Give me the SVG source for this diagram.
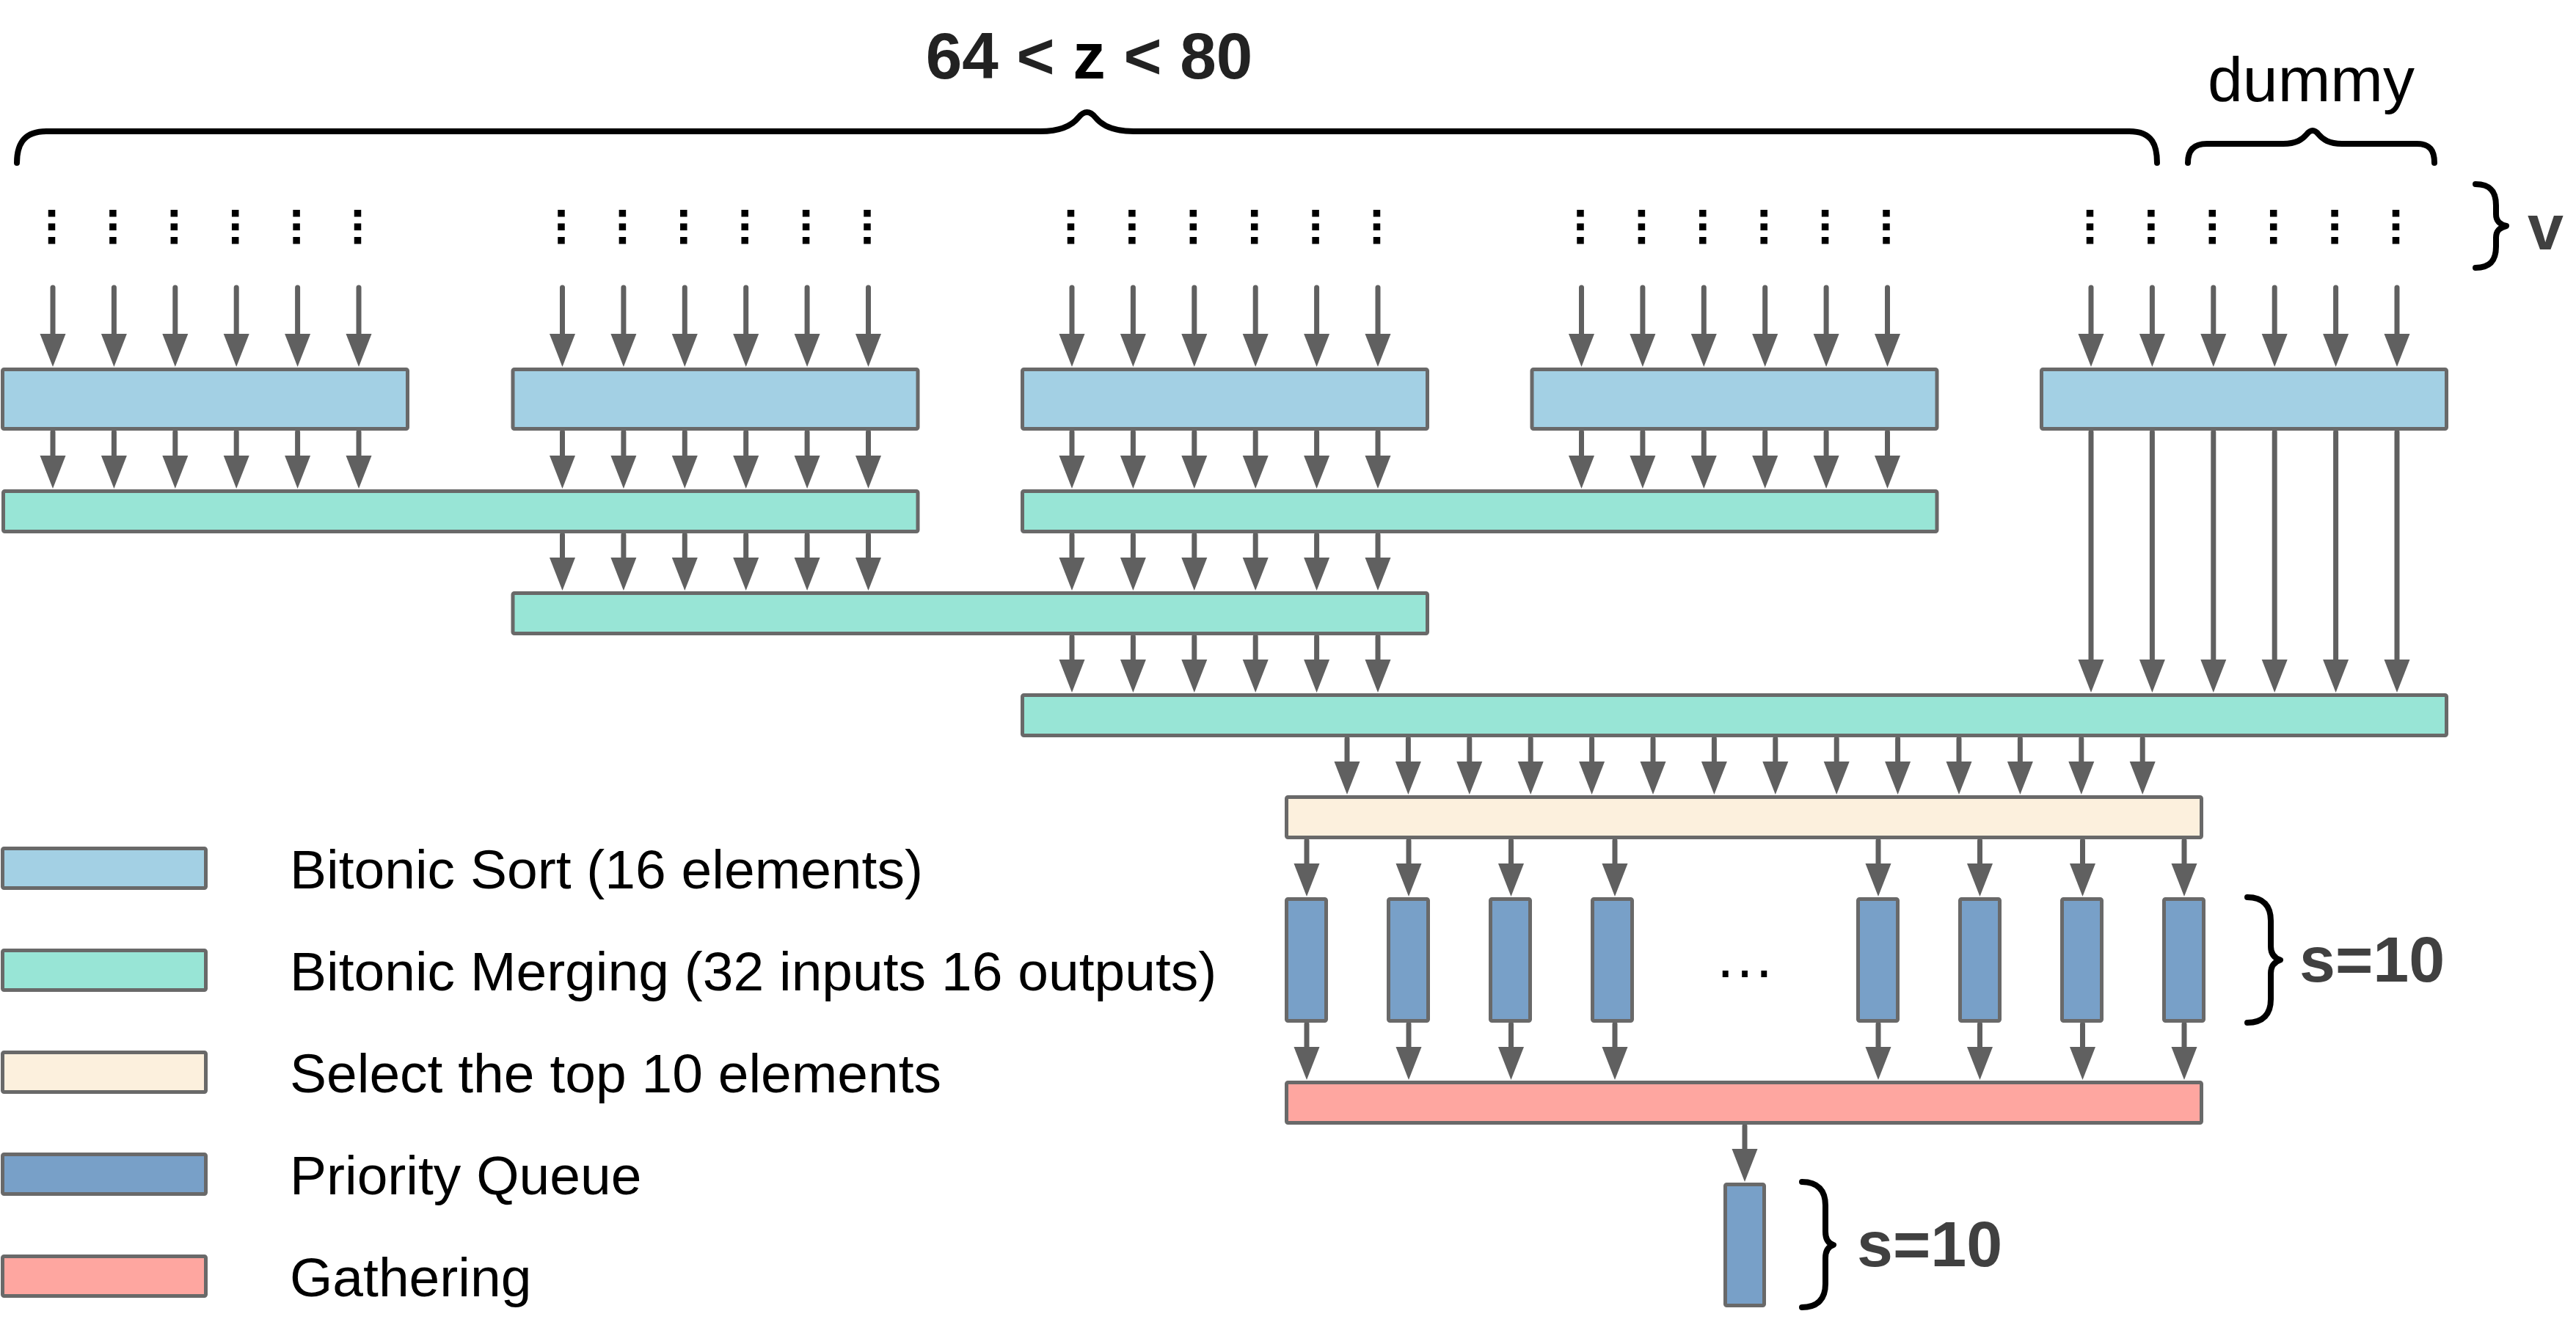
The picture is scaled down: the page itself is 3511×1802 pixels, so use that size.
<svg xmlns="http://www.w3.org/2000/svg" width="3511" height="1802" viewBox="0 0 3511 1802">
<defs>
<style>
.b{stroke:#696969;stroke-width:5;stroke-linejoin:round}
.sort{fill:#a3d0e4}.merge{fill:#98e5d6}.sel{fill:#fcf0dd}.pq{fill:#78a0c8}.gat{fill:#fea6a0}
.a{stroke:#606060;stroke-width:7;stroke-linecap:round;fill:none;marker-end:url(#ah)}
.br{fill:none;stroke:#000;stroke-width:8;stroke-linecap:round;stroke-linejoin:round}
.d{stroke:#000;stroke-width:9.5;stroke-dasharray:9.5 9}
.t{font-family:"Liberation Sans",Arial,Helvetica,sans-serif}
.lg{font-size:75px;fill:#000}
.bl{font-weight:bold;font-size:88px;fill:#404040}
</style>
<marker id="ah" markerUnits="userSpaceOnUse" markerWidth="46" markerHeight="35" refX="1" refY="17.5" orient="auto" overflow="visible">
<path d="M0,0 L45,17.5 L0,35 z" fill="#606060"/>
</marker>
</defs>
<rect width="3511" height="1802" fill="#fff"/>

<g id="labels">
<text class="t" x="1484.5" y="107" text-anchor="middle" font-weight="bold" font-size="89" fill="#222">64 &lt; <tspan fill="#000">z</tspan> &lt; 80</text>
<text class="t" x="3009" y="138" font-size="86" fill="#000">dummy</text>
<text class="t bl" x="3445" y="340">v</text>
<text class="t bl" x="3134" y="1338">s=10</text>
<text class="t bl" x="2531" y="1726">s=10</text>
<text class="t" x="2378" y="1332" text-anchor="middle" font-size="83" fill="#000">…</text>
</g>

<g id="braces">
<path class="br" d="M23,222 C23,200 30,179 63,179 L1418,179 C1448,179 1462,170 1470,160 Q1481.5,146 1493,160 C1501,170 1515,179 1545,179 L2902,179 C2935,179 2940,200 2940,222"/>
<path class="br" d="M2982,222 C2982,205 2990,196 3008,196 L3112,196 C3130,196 3138,190 3144,183 Q3152,173 3160,183 C3166,190 3174,196 3192,196 L3294,196 C3312,196 3318,205 3318,222"/>
<path class="br" d="M3374,251 C3395,251 3402,262 3402,280 L3402,292 C3402,302 3408,306 3416,308 C3408,310 3402,314 3402,324 L3402,336 C3402,354 3395,365 3374,365"/>
<path class="br" d="M3063,1223 C3085,1223 3095,1235 3095,1255 L3095,1290 C3095,1300 3100,1306 3108,1308.5 C3100,1311 3095,1317 3095,1327 L3095,1362 C3095,1382 3085,1394 3063,1394"/>
<path class="br" d="M2456,1611 C2478,1611 2488,1623 2488,1643 L2488,1679 C2488,1689 2492,1695 2499,1697 C2492,1699 2488,1705 2488,1715 L2488,1750 C2488,1770 2478,1782 2456,1782"/>
</g>

<g id="inputs">
<line class="d" x1="70.5" y1="286" x2="70.5" y2="332.5"/><line class="d" x1="153.9" y1="286" x2="153.9" y2="332.5"/><line class="d" x1="237.3" y1="286" x2="237.3" y2="332.5"/><line class="d" x1="320.7" y1="286" x2="320.7" y2="332.5"/><line class="d" x1="404.1" y1="286" x2="404.1" y2="332.5"/><line class="d" x1="487.5" y1="286" x2="487.5" y2="332.5"/>
<line class="d" x1="765" y1="286" x2="765" y2="332.5"/><line class="d" x1="848.4" y1="286" x2="848.4" y2="332.5"/><line class="d" x1="931.8" y1="286" x2="931.8" y2="332.5"/><line class="d" x1="1015.2" y1="286" x2="1015.2" y2="332.5"/><line class="d" x1="1098.6" y1="286" x2="1098.6" y2="332.5"/><line class="d" x1="1182" y1="286" x2="1182" y2="332.5"/>
<line class="d" x1="1459.5" y1="286" x2="1459.5" y2="332.5"/><line class="d" x1="1542.9" y1="286" x2="1542.9" y2="332.5"/><line class="d" x1="1626.3" y1="286" x2="1626.3" y2="332.5"/><line class="d" x1="1709.7" y1="286" x2="1709.7" y2="332.5"/><line class="d" x1="1793.1" y1="286" x2="1793.1" y2="332.5"/><line class="d" x1="1876.5" y1="286" x2="1876.5" y2="332.5"/>
<line class="d" x1="2154" y1="286" x2="2154" y2="332.5"/><line class="d" x1="2237.4" y1="286" x2="2237.4" y2="332.5"/><line class="d" x1="2320.8" y1="286" x2="2320.8" y2="332.5"/><line class="d" x1="2404.2" y1="286" x2="2404.2" y2="332.5"/><line class="d" x1="2487.6" y1="286" x2="2487.6" y2="332.5"/><line class="d" x1="2571" y1="286" x2="2571" y2="332.5"/>
<line class="d" x1="2848.5" y1="286" x2="2848.5" y2="332.5"/><line class="d" x1="2931.9" y1="286" x2="2931.9" y2="332.5"/><line class="d" x1="3015.3" y1="286" x2="3015.3" y2="332.5"/><line class="d" x1="3098.7" y1="286" x2="3098.7" y2="332.5"/><line class="d" x1="3182.1" y1="286" x2="3182.1" y2="332.5"/><line class="d" x1="3265.5" y1="286" x2="3265.5" y2="332.5"/>
</g>

<g id="connectors">
<!-- inputs to sort boxes -->
<line class="a" x1="72" y1="392" x2="72" y2="456"/><line class="a" x1="155.4" y1="392" x2="155.4" y2="456"/><line class="a" x1="238.8" y1="392" x2="238.8" y2="456"/><line class="a" x1="322.2" y1="392" x2="322.2" y2="456"/><line class="a" x1="405.6" y1="392" x2="405.6" y2="456"/><line class="a" x1="489" y1="392" x2="489" y2="456"/>
<line class="a" x1="766.5" y1="392" x2="766.5" y2="456"/><line class="a" x1="849.9" y1="392" x2="849.9" y2="456"/><line class="a" x1="933.3" y1="392" x2="933.3" y2="456"/><line class="a" x1="1016.7" y1="392" x2="1016.7" y2="456"/><line class="a" x1="1100.1" y1="392" x2="1100.1" y2="456"/><line class="a" x1="1183.5" y1="392" x2="1183.5" y2="456"/>
<line class="a" x1="1461" y1="392" x2="1461" y2="456"/><line class="a" x1="1544.4" y1="392" x2="1544.4" y2="456"/><line class="a" x1="1627.8" y1="392" x2="1627.8" y2="456"/><line class="a" x1="1711.2" y1="392" x2="1711.2" y2="456"/><line class="a" x1="1794.6" y1="392" x2="1794.6" y2="456"/><line class="a" x1="1878" y1="392" x2="1878" y2="456"/>
<line class="a" x1="2155.5" y1="392" x2="2155.5" y2="456"/><line class="a" x1="2238.9" y1="392" x2="2238.9" y2="456"/><line class="a" x1="2322.3" y1="392" x2="2322.3" y2="456"/><line class="a" x1="2405.7" y1="392" x2="2405.7" y2="456"/><line class="a" x1="2489.1" y1="392" x2="2489.1" y2="456"/><line class="a" x1="2572.5" y1="392" x2="2572.5" y2="456"/>
<line class="a" x1="2850" y1="392" x2="2850" y2="456"/><line class="a" x1="2933.4" y1="392" x2="2933.4" y2="456"/><line class="a" x1="3016.8" y1="392" x2="3016.8" y2="456"/><line class="a" x1="3100.2" y1="392" x2="3100.2" y2="456"/><line class="a" x1="3183.6" y1="392" x2="3183.6" y2="456"/><line class="a" x1="3267" y1="392" x2="3267" y2="456"/>
<!-- sort to merge1 -->
<line class="a" x1="72" y1="589" x2="72" y2="622"/><line class="a" x1="155.4" y1="589" x2="155.4" y2="622"/><line class="a" x1="238.8" y1="589" x2="238.8" y2="622"/><line class="a" x1="322.2" y1="589" x2="322.2" y2="622"/><line class="a" x1="405.6" y1="589" x2="405.6" y2="622"/><line class="a" x1="489" y1="589" x2="489" y2="622"/>
<line class="a" x1="766.5" y1="589" x2="766.5" y2="622"/><line class="a" x1="849.9" y1="589" x2="849.9" y2="622"/><line class="a" x1="933.3" y1="589" x2="933.3" y2="622"/><line class="a" x1="1016.7" y1="589" x2="1016.7" y2="622"/><line class="a" x1="1100.1" y1="589" x2="1100.1" y2="622"/><line class="a" x1="1183.5" y1="589" x2="1183.5" y2="622"/>
<line class="a" x1="1461" y1="589" x2="1461" y2="622"/><line class="a" x1="1544.4" y1="589" x2="1544.4" y2="622"/><line class="a" x1="1627.8" y1="589" x2="1627.8" y2="622"/><line class="a" x1="1711.2" y1="589" x2="1711.2" y2="622"/><line class="a" x1="1794.6" y1="589" x2="1794.6" y2="622"/><line class="a" x1="1878" y1="589" x2="1878" y2="622"/>
<line class="a" x1="2155.5" y1="589" x2="2155.5" y2="622"/><line class="a" x1="2238.9" y1="589" x2="2238.9" y2="622"/><line class="a" x1="2322.3" y1="589" x2="2322.3" y2="622"/><line class="a" x1="2405.7" y1="589" x2="2405.7" y2="622"/><line class="a" x1="2489.1" y1="589" x2="2489.1" y2="622"/><line class="a" x1="2572.5" y1="589" x2="2572.5" y2="622"/>
<!-- dummy sort to merge3 -->
<line class="a" x1="2850" y1="589" x2="2850" y2="900"/><line class="a" x1="2933.4" y1="589" x2="2933.4" y2="900"/><line class="a" x1="3016.8" y1="589" x2="3016.8" y2="900"/><line class="a" x1="3100.2" y1="589" x2="3100.2" y2="900"/><line class="a" x1="3183.6" y1="589" x2="3183.6" y2="900"/><line class="a" x1="3267" y1="589" x2="3267" y2="900"/>
<!-- merge1 to merge2 -->
<line class="a" x1="766.5" y1="729" x2="766.5" y2="761"/><line class="a" x1="849.9" y1="729" x2="849.9" y2="761"/><line class="a" x1="933.3" y1="729" x2="933.3" y2="761"/><line class="a" x1="1016.7" y1="729" x2="1016.7" y2="761"/><line class="a" x1="1100.1" y1="729" x2="1100.1" y2="761"/><line class="a" x1="1183.5" y1="729" x2="1183.5" y2="761"/>
<line class="a" x1="1461" y1="729" x2="1461" y2="761"/><line class="a" x1="1544.4" y1="729" x2="1544.4" y2="761"/><line class="a" x1="1627.8" y1="729" x2="1627.8" y2="761"/><line class="a" x1="1711.2" y1="729" x2="1711.2" y2="761"/><line class="a" x1="1794.6" y1="729" x2="1794.6" y2="761"/><line class="a" x1="1878" y1="729" x2="1878" y2="761"/>
<!-- merge2 to merge3 -->
<line class="a" x1="1461" y1="868" x2="1461" y2="900"/><line class="a" x1="1544.4" y1="868" x2="1544.4" y2="900"/><line class="a" x1="1627.8" y1="868" x2="1627.8" y2="900"/><line class="a" x1="1711.2" y1="868" x2="1711.2" y2="900"/><line class="a" x1="1794.6" y1="868" x2="1794.6" y2="900"/><line class="a" x1="1878" y1="868" x2="1878" y2="900"/>
<!-- merge3 to select -->
<line class="a" x1="1836" y1="1007" x2="1836" y2="1039"/><line class="a" x1="1919.4" y1="1007" x2="1919.4" y2="1039"/><line class="a" x1="2002.8" y1="1007" x2="2002.8" y2="1039"/><line class="a" x1="2086.2" y1="1007" x2="2086.2" y2="1039"/><line class="a" x1="2169.6" y1="1007" x2="2169.6" y2="1039"/><line class="a" x1="2253" y1="1007" x2="2253" y2="1039"/><line class="a" x1="2336.4" y1="1007" x2="2336.4" y2="1039"/><line class="a" x1="2419.8" y1="1007" x2="2419.8" y2="1039"/><line class="a" x1="2503.2" y1="1007" x2="2503.2" y2="1039"/><line class="a" x1="2586.6" y1="1007" x2="2586.6" y2="1039"/><line class="a" x1="2670" y1="1007" x2="2670" y2="1039"/><line class="a" x1="2753.4" y1="1007" x2="2753.4" y2="1039"/><line class="a" x1="2836.8" y1="1007" x2="2836.8" y2="1039"/><line class="a" x1="2920.2" y1="1007" x2="2920.2" y2="1039"/>
<!-- select to PQ -->
<line class="a" x1="1781" y1="1146" x2="1781" y2="1178"/><line class="a" x1="1920" y1="1146" x2="1920" y2="1178"/><line class="a" x1="2059.5" y1="1146" x2="2059.5" y2="1178"/><line class="a" x1="2201" y1="1146" x2="2201" y2="1178"/>
<line class="a" x1="2560" y1="1146" x2="2560" y2="1178"/><line class="a" x1="2698.5" y1="1146" x2="2698.5" y2="1178"/><line class="a" x1="2838.5" y1="1146" x2="2838.5" y2="1178"/><line class="a" x1="2977" y1="1146" x2="2977" y2="1178"/>
<!-- PQ to gathering -->
<line class="a" x1="1781" y1="1396" x2="1781" y2="1428"/><line class="a" x1="1920" y1="1396" x2="1920" y2="1428"/><line class="a" x1="2059.5" y1="1396" x2="2059.5" y2="1428"/><line class="a" x1="2201" y1="1396" x2="2201" y2="1428"/>
<line class="a" x1="2560" y1="1396" x2="2560" y2="1428"/><line class="a" x1="2698.5" y1="1396" x2="2698.5" y2="1428"/><line class="a" x1="2838.5" y1="1396" x2="2838.5" y2="1428"/><line class="a" x1="2977" y1="1396" x2="2977" y2="1428"/>
<!-- gathering to final PQ -->
<line class="a" x1="2378" y1="1535" x2="2378" y2="1567"/>
</g>

<g id="sort1"><rect class="b sort" x="3.5" y="503.5" width="552" height="81" rx="2"/></g>
<g id="sort2"><rect class="b sort" x="699" y="503.5" width="552" height="81" rx="2"/></g>
<g id="sort3"><rect class="b sort" x="1393.5" y="503.5" width="552" height="81" rx="2"/></g>
<g id="sort4"><rect class="b sort" x="2088" y="503.5" width="552" height="81" rx="2"/></g>
<g id="sort5"><rect class="b sort" x="2782.5" y="503.5" width="552" height="81" rx="2"/></g>
<g id="merge1a"><rect class="b merge" x="4.5" y="669.5" width="1246.5" height="55" rx="2"/></g>
<g id="merge1b"><rect class="b merge" x="1393.5" y="669.5" width="1246.5" height="55" rx="2"/></g>
<g id="merge2"><rect class="b merge" x="699" y="808.5" width="1246.5" height="55" rx="2"/></g>
<g id="merge3"><rect class="b merge" x="1393.5" y="947.5" width="1941" height="55" rx="2"/></g>
<g id="select"><rect class="b sel" x="1753.5" y="1086.5" width="1247" height="55" rx="2"/></g>
<g id="pq1"><rect class="b pq" x="1753.5" y="1225.5" width="54" height="166" rx="2"/></g>
<g id="pq2"><rect class="b pq" x="1892.5" y="1225.5" width="54" height="166" rx="2"/></g>
<g id="pq3"><rect class="b pq" x="2031.5" y="1225.5" width="54" height="166" rx="2"/></g>
<g id="pq4"><rect class="b pq" x="2170.5" y="1225.5" width="54" height="166" rx="2"/></g>
<g id="pq5"><rect class="b pq" x="2532.5" y="1225.5" width="54" height="166" rx="2"/></g>
<g id="pq6"><rect class="b pq" x="2671.5" y="1225.5" width="54" height="166" rx="2"/></g>
<g id="pq7"><rect class="b pq" x="2810.5" y="1225.5" width="54" height="166" rx="2"/></g>
<g id="pq8"><rect class="b pq" x="2949.5" y="1225.5" width="54" height="166" rx="2"/></g>
<g id="gathering"><rect class="b gat" x="1753.5" y="1475.5" width="1247" height="55" rx="2"/></g>
<g id="pqfinal"><rect class="b pq" x="2351.5" y="1614.5" width="53" height="165" rx="2"/></g>

<g id="legend">
<g id="lg-sort"><rect class="b sort" x="3.5" y="1156.5" width="277" height="54" rx="2"/><text class="t lg" x="395" y="1211">Bitonic Sort (16 elements)</text></g>
<g id="lg-merge"><rect class="b merge" x="3.5" y="1295.5" width="277" height="54" rx="2"/><text class="t lg" x="395" y="1350">Bitonic Merging (32 inputs 16 outputs)</text></g>
<g id="lg-select"><rect class="b sel" x="3.5" y="1434.5" width="277" height="54" rx="2"/><text class="t lg" x="395" y="1489">Select the top 10 elements</text></g>
<g id="lg-pq"><rect class="b pq" x="3.5" y="1573.5" width="277" height="54" rx="2"/><text class="t lg" x="395" y="1628">Priority Queue</text></g>
<g id="lg-gather"><rect class="b gat" x="3.5" y="1712.5" width="277" height="54" rx="2"/><text class="t lg" x="395" y="1767">Gathering</text></g>
</g>
</svg>
